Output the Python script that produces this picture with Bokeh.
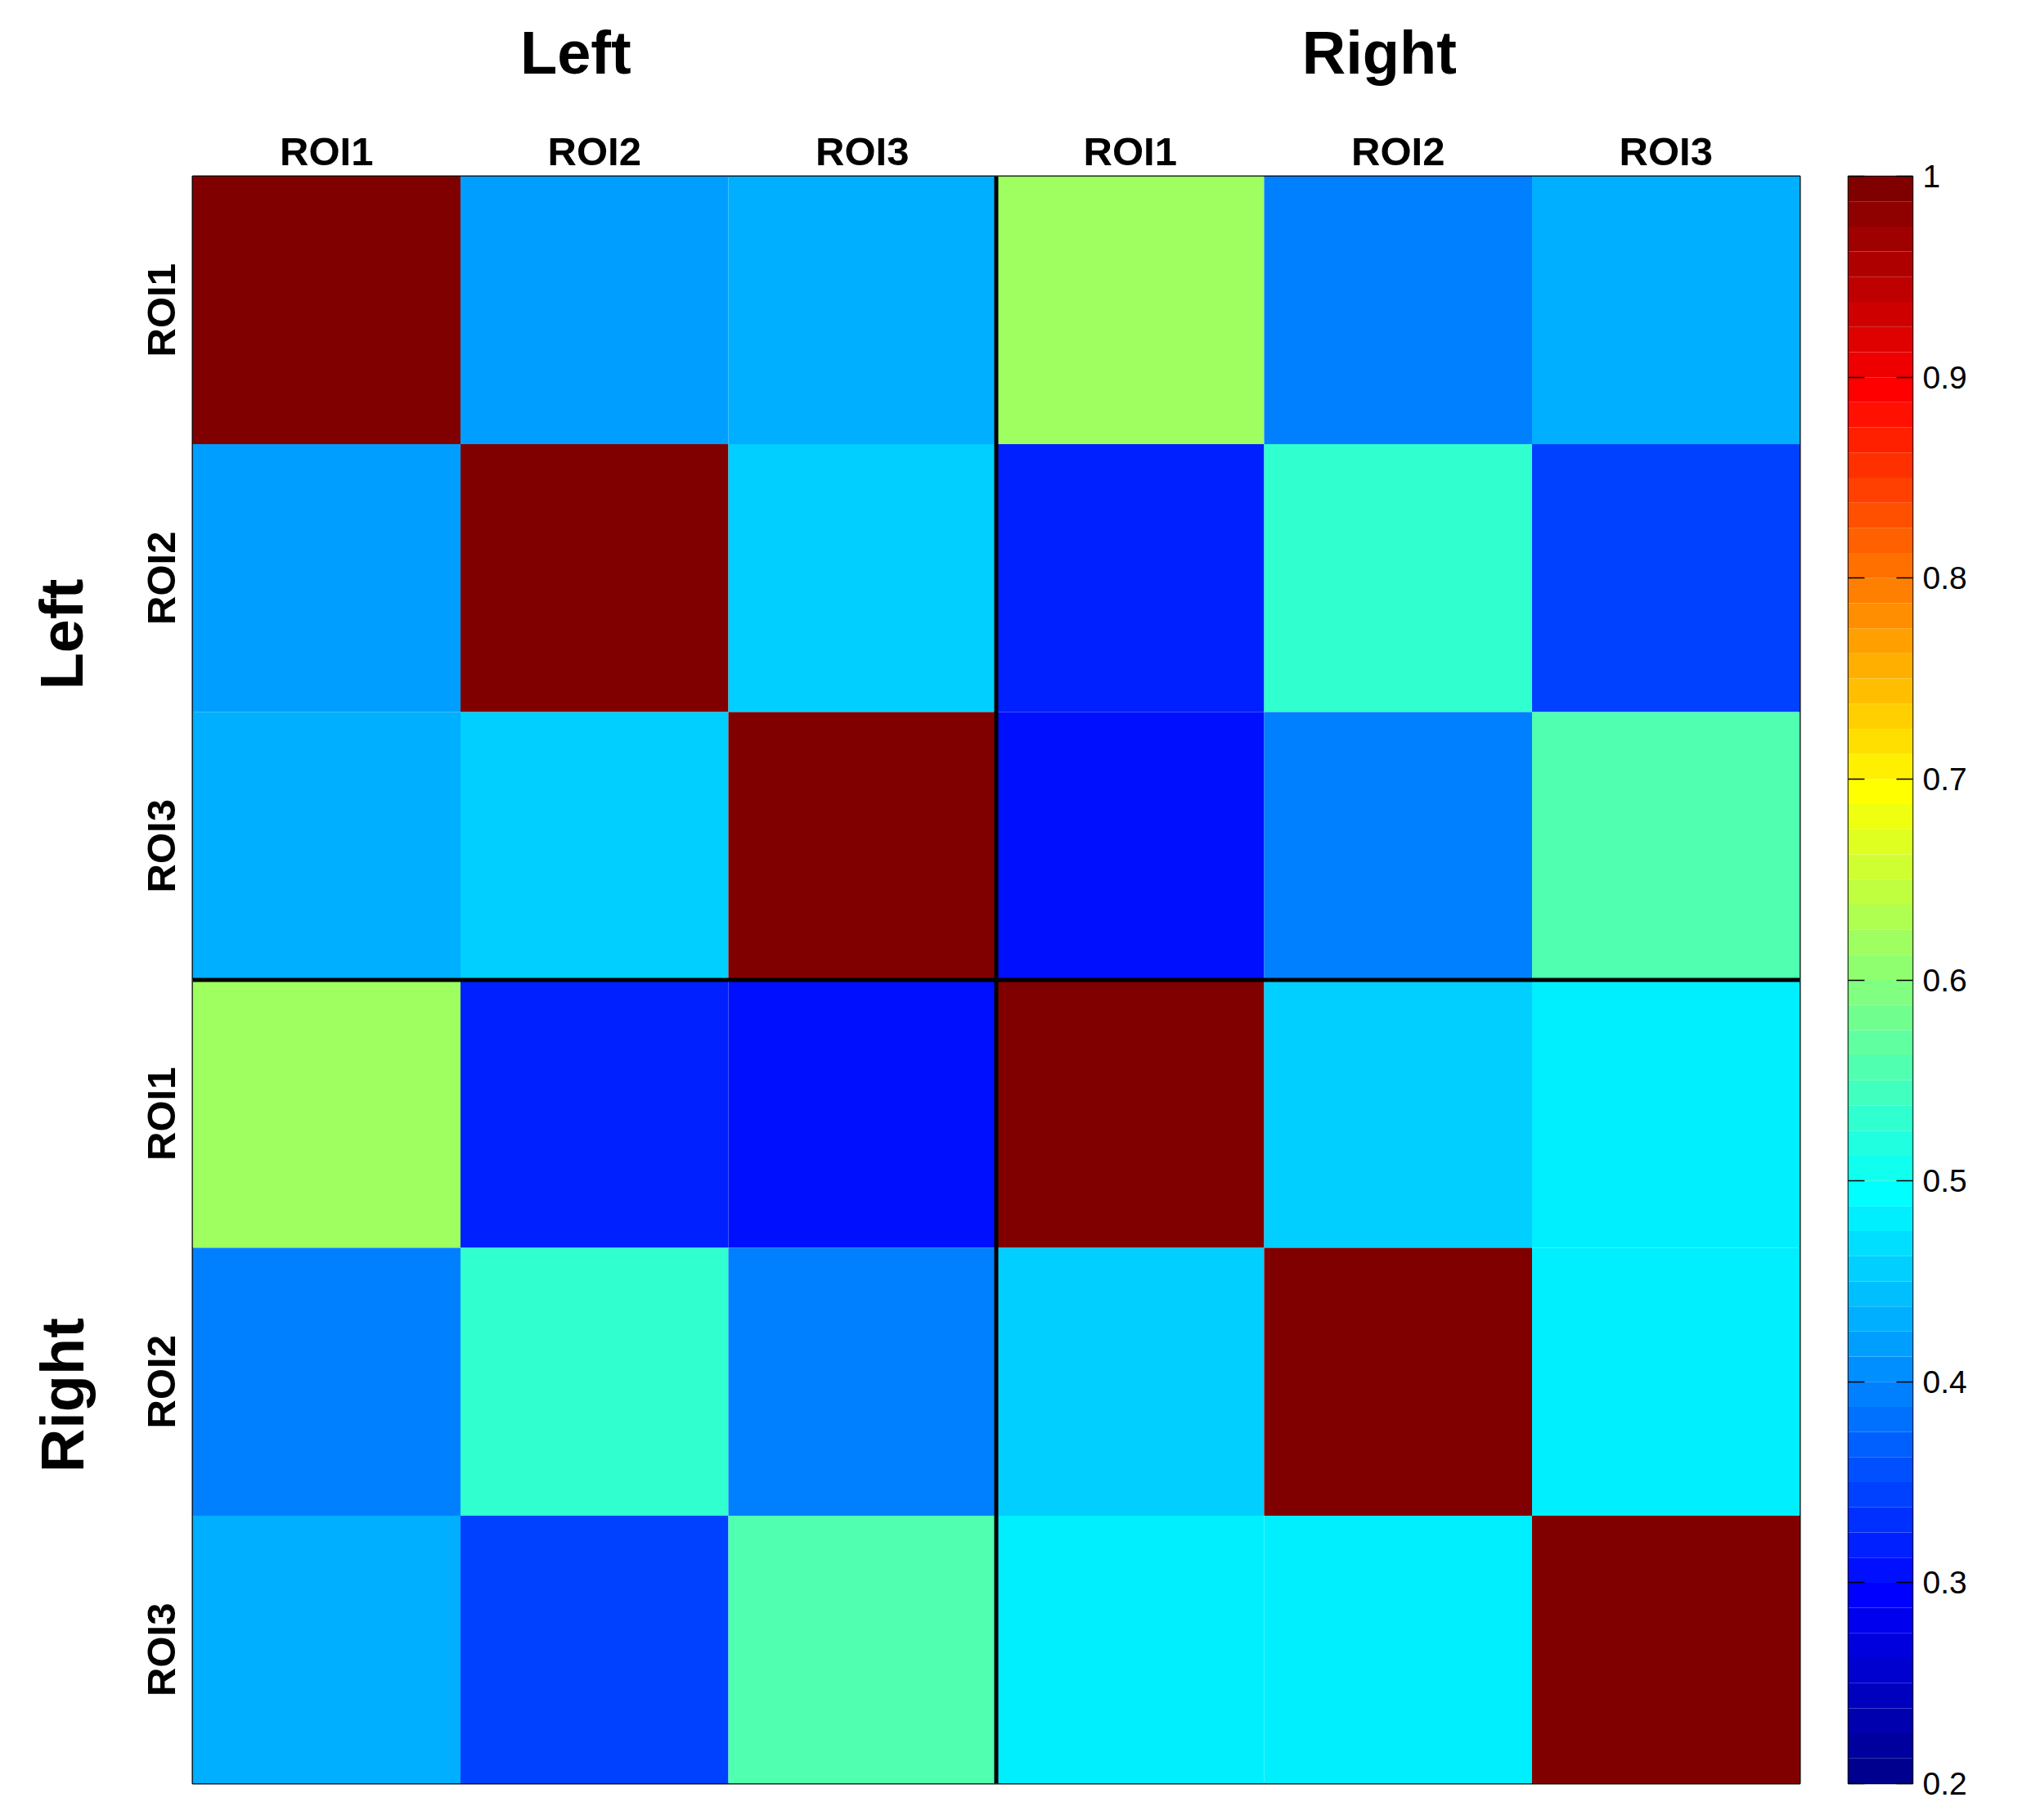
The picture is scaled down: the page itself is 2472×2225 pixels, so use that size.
import numpy as np
from bokeh.plotting import figure
from bokeh.models import (LinearAxis, FixedTicker, Range1d, LinearColorMapper,
                          ColumnDataSource, Span)
from bokeh.layouts import row
from bokeh.embed import file_html
from bokeh.resources import INLINE

# ---------------- data ----------------
roi_labels = ["ROI1", "ROI2", "ROI3", "ROI1", "ROI2", "ROI3"]
group_labels = ["Left", "Right"]
row_left_roi1 = [1.00, 0.42, 0.43, 0.62, 0.39, 0.43]
row_left_roi2 = [0.42, 1.00, 0.455, 0.32, 0.53, 0.345]
row_left_roi3 = [0.43, 0.455, 1.00, 0.305, 0.39, 0.555]
row_right_roi1 = [0.62, 0.32, 0.305, 1.00, 0.455, 0.48]
row_right_roi2 = [0.39, 0.53, 0.39, 0.455, 1.00, 0.48]
row_right_roi3 = [0.43, 0.345, 0.555, 0.48, 0.48, 1.00]
cbar_ticks = [0.2, 0.3, 0.4, 0.5, 0.6, 0.7, 0.8, 0.9, 1.0]
cbar_tick_labels = ["0.2", "0.3", "0.4", "0.5", "0.6", "0.7", "0.8", "0.9", "1"]
cmin, cmax = 0.2, 1.0

matrix = [row_left_roi1, row_left_roi2, row_left_roi3,
          row_right_roi1, row_right_roi2, row_right_roi3]


# MATLAB-style jet colormap, 64 levels
def jet(n=64):
    cols = []
    q = n // 4
    h = q // 2
    for i in range(1, n + 1):
        if i <= h:
            b = 0.5 + i / q
        elif i <= h + q:
            b = 1.0
        elif i <= h + 2 * q:
            b = 1 - (i - (h + q)) / q
        else:
            b = 0.0
        if i <= h:
            g = 0.0
        elif i <= h + q:
            g = (i - h) / q
        elif i <= h + 2 * q:
            g = 1.0
        elif i <= h + 3 * q:
            g = 1 - (i - (h + 2 * q)) / q
        else:
            g = 0.0
        if i <= h + q:
            r = 0.0
        elif i <= h + 2 * q:
            r = (i - (h + q)) / q
        elif i <= h + 3 * q:
            r = 1.0
        else:
            r = 1 - (i - (h + 3 * q)) / q
        cols.append("#%02x%02x%02x" % (round(r * 255), round(g * 255), round(b * 255)))
    return cols


palette = jet(64)
mapper = LinearColorMapper(palette=palette, low=cmin, high=cmax)

n = len(roi_labels)
xs, ys, vals = [], [], []
for i, r in enumerate(matrix):
    for j, v in enumerate(r):
        xs.append(j + 0.5)
        ys.append(i + 0.5)
        vals.append(v)
src = ColumnDataSource(dict(x=xs, y=ys, v=vals))

FONT = "Liberation Sans"
FRAME = 1965
TOP = 215
BOTTOM = 25

p = figure(width=235 + FRAME + 10, height=TOP + FRAME + BOTTOM,
           x_range=Range1d(0, n), y_range=Range1d(n, 0),
           x_axis_location=None, y_axis_location=None,
           toolbar_location=None, output_backend="svg",
           min_border_left=235, min_border_top=TOP,
           min_border_right=10, min_border_bottom=BOTTOM)
p.grid.visible = False
p.outline_line_color = "black"
p.outline_line_width = 2
p.background_fill_color = "white"
p.border_fill_color = "white"

p.rect(x="x", y="y", width=1, height=1, source=src,
       fill_color={"field": "v", "transform": mapper}, line_color=None)

half = n // 2
p.add_layout(Span(location=half, dimension="height", line_color="black", line_width=5))
p.add_layout(Span(location=half, dimension="width", line_color="black", line_width=5))

centers = [k + 0.5 for k in range(n)]


def styled_axis(ticks, labels, size, standoff, vertical=False):
    ax = LinearAxis(ticker=FixedTicker(ticks=ticks),
                    major_label_overrides={t: l for t, l in zip(ticks, labels)})
    ax.axis_line_color = None
    ax.major_tick_line_color = None
    ax.minor_tick_line_color = None
    ax.major_tick_out = 0
    ax.major_tick_in = 0
    ax.major_label_text_font = FONT
    ax.major_label_text_font_style = "bold"
    ax.major_label_text_font_size = size
    ax.major_label_text_color = "black"
    ax.major_label_standoff = standoff
    if vertical:
        ax.major_label_orientation = "vertical"
    return ax


# top axes
p.add_layout(styled_axis(centers, roi_labels, "49px", 4), "above")
p.add_layout(styled_axis([1.43, 4.43], group_labels, "74px", 49), "above")
# left axes
p.add_layout(styled_axis(centers, roi_labels, "49px", 12, vertical=True), "left")
p.add_layout(styled_axis([1.71, 4.55], group_labels, "74px", 49, vertical=True), "left")

# ---------------- colour bar ----------------
edges = np.linspace(cmin, cmax, len(palette) + 1)
cb = figure(width=49 + 79 + 110, height=TOP + FRAME + BOTTOM,
            x_range=Range1d(0, 1), y_range=Range1d(cmin, cmax),
            x_axis_location=None, y_axis_location=None,
            toolbar_location=None, output_backend="svg",
            min_border_left=49, min_border_top=TOP,
            min_border_right=110, min_border_bottom=BOTTOM)
cb.grid.visible = False
cb.outline_line_color = "black"
cb.outline_line_width = 1.5
cb.border_fill_color = "white"
cb.quad(left=0, right=1, bottom=edges[:-1], top=edges[1:], fill_color=palette, line_color=None)

rax = LinearAxis(ticker=FixedTicker(ticks=cbar_ticks),
                 major_label_overrides={t: l for t, l in zip(cbar_ticks, cbar_tick_labels)})
rax.axis_line_color = None
rax.major_tick_in = 20
rax.major_tick_out = 0
rax.major_tick_line_color = "black"
rax.major_tick_line_width = 1.5
rax.minor_tick_line_color = None
rax.major_label_standoff = 12
rax.major_label_text_font = FONT
rax.major_label_text_font_size = "39px"
rax.major_label_text_color = "black"
cb.add_layout(rax, "right")

lax = LinearAxis(ticker=FixedTicker(ticks=cbar_ticks))
lax.axis_line_color = None
lax.major_tick_in = 20
lax.major_tick_out = 0
lax.major_tick_line_color = "black"
lax.major_tick_line_width = 1.5
lax.minor_tick_line_color = None
lax.major_label_text_font_size = "0px"
lax.major_label_text_alpha = 0
lax.major_label_standoff = 0
cb.add_layout(lax, "left")

layout = row(p, cb)
open("out.html", "w").write(file_html(layout, INLINE))
